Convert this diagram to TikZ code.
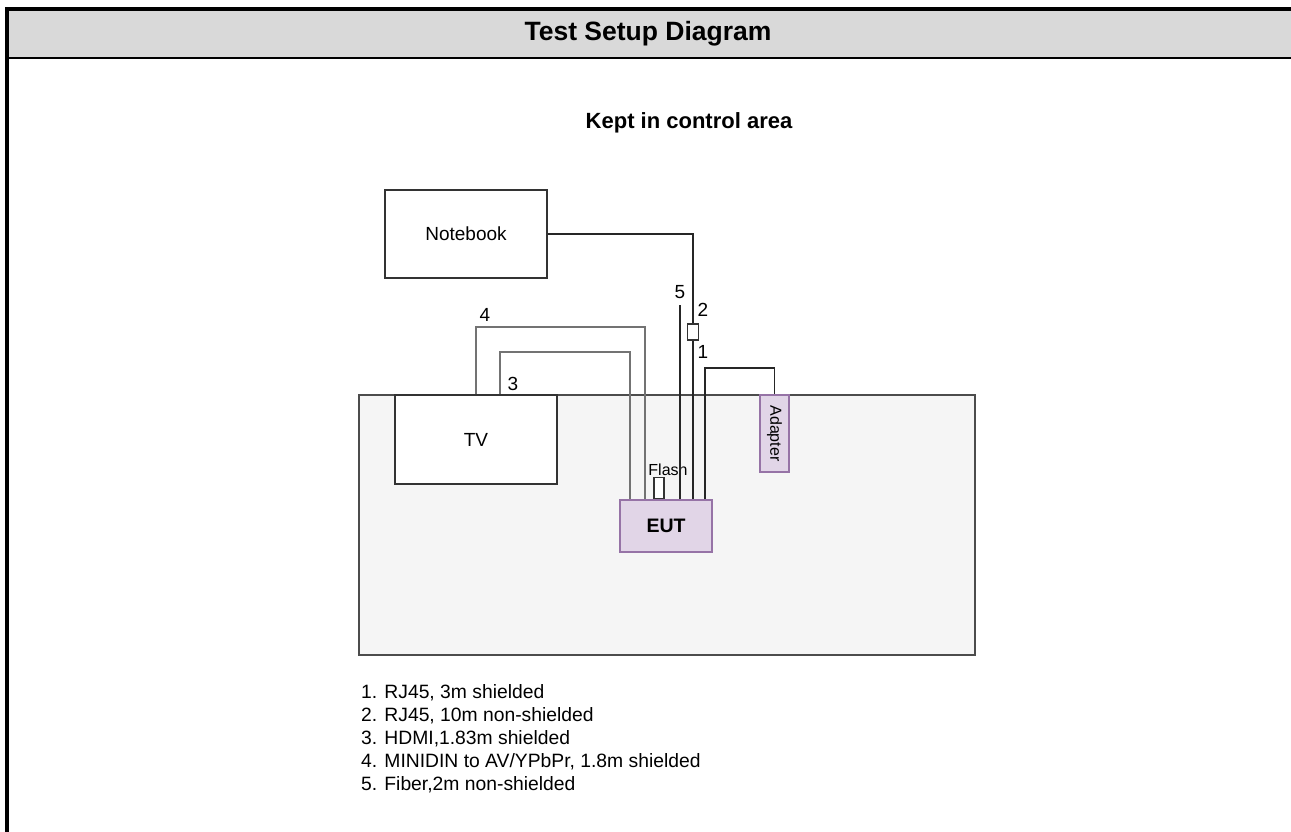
\documentclass[tikz,border=0pt]{standalone}
\usepackage{fontspec}
\setmainfont{Liberation Sans}
\usepackage{tikz}
\usetikzlibrary{positioning}
\definecolor{headgray}{HTML}{D9D9D9}
\definecolor{tablefill}{HTML}{F5F5F5}
\definecolor{eutfill}{HTML}{E1D5E7}
\definecolor{eutdraw}{HTML}{9673A6}

\begin{document}
\begin{tikzpicture}[x=1pt,y=-1pt,
  box/.style={draw=black!80,line width=1.6pt,inner sep=0pt,font=\fontsize{19}{23}\selectfont},
  purplebox/.style={box,draw=eutdraw,fill=eutfill},
  cable/.style={line width=1.8pt,draw=black!85},
  greycable/.style={line width=2pt,draw=black!55},
  num/.style={font=\fontsize{19}{23}\selectfont,inner sep=0pt}]
  \useasboundingbox (0,0) rectangle (1291,832);
  \fill[white] (0,0) rectangle (1291,832);
  \fill[headgray] (9,11) rectangle (1291,57);
  \fill[black] (5,7) rectangle (1291,11);
  \fill[black] (5,7) rectangle (9,832);
  \fill[black] (9,57) rectangle (1291,59);
  \node[font=\bfseries\fontsize{26.5}{30}\selectfont] (title) at (648,34) {Test Setup Diagram};
  \node[font=\bfseries\fontsize{22}{25}\selectfont] (area) at (689,123) {Kept in control area};

  \node[box,draw=black!70,fill=tablefill,minimum width=616pt,minimum height=260pt] (table) at (667,525) {};
  \node[box,fill=white,minimum width=162pt,minimum height=88pt] (notebook) at (466,234) {Notebook};
  \node[box,fill=white,minimum width=162pt,minimum height=89pt] (tv) at (476,439.5) {TV};
  \node[purplebox,minimum width=92pt,minimum height=52pt,font=\bfseries\fontsize{19.5}{23}\selectfont] (eut) at (666,526) {EUT};
  \node[purplebox,minimum width=29pt,minimum height=77pt] (adapter) at (774.5,433.5) {\rotatebox{-90}{\fontsize{16}{19}\selectfont Adapter}};
  \node[box,fill=white,minimum width=10pt,minimum height=21pt,anchor=south] (flash) at ([xshift=-7pt]eut.north) {};
  \node[font=\fontsize{16}{19}\selectfont,inner sep=0pt] (flashlabel) at (668,470) {Flash};
  \node[box,fill=white,minimum width=11pt,minimum height=16pt] (coupler) at (693,332) {};
  \coordinate (fiberend) at (680,305);

  \draw[greycable] (tv.north) -- ++(0,-67) -| ([xshift=-21pt]eut.north);
  \draw[greycable] ([xshift=24pt]tv.north) -- ++(0,-42) -| ([xshift=-36pt]eut.north);
  \draw[cable] (eut.north -| fiberend) -- (fiberend);
  \draw[cable] (notebook.east) -| (coupler.north);
  \draw[cable] (coupler.south) -- (eut.north -| coupler.south);
  \draw[cable] ([xshift=39pt]eut.north) -- ++(0,-131) -| (adapter.north);

  \node[num] (n4) at (485,315) {4};
  \node[num] (n3) at (513,384) {3};
  \node[num] (n5) at (680,292) {5};
  \node[num] (n2) at (703,310) {2};
  \node[num] (n1) at (703,352) {1};

  \node[anchor=north west,align=left,inner sep=0pt,font=\fontsize{19.3}{23}\selectfont] (legend) at (361,684)
    {1. RJ45, 3m shielded\\2. RJ45, 10m non-shielded\\3. HDMI,1.83m shielded\\4. MINIDIN to AV/YPbPr, 1.8m shielded\\5. Fiber,2m non-shielded};
\end{tikzpicture}
\end{document}
